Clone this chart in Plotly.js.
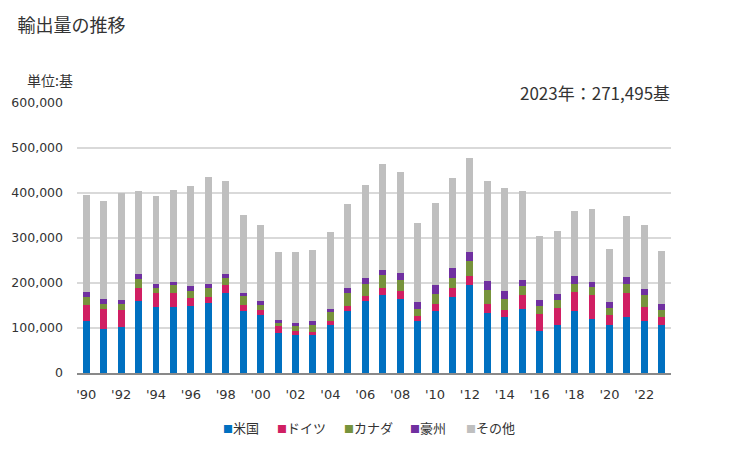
<!DOCTYPE html>
<html>
<head>
<meta charset="utf-8">
<script src="https://cdn.plot.ly/plotly-3.0.1.min.js"></script>
<style>html,body{margin:0;padding:0;background:#fff;}#chart{width:729px;height:450px;}</style>
</head>
<body>
<div id="chart"></div>
<script>
const years = [1990,1991,1992,1993,1994,1995,1996,1997,1998,1999,2000,2001,2002,2003,2004,2005,2006,2007,2008,2009,2010,2011,2012,2013,2014,2015,2016,2017,2018,2019,2020,2021,2022,2023];
const usa = [116000,98500,103000,161000,147000,147000,150000,156000,177000,137000,128000,89600,83700,83700,107000,138500,161000,172600,165000,116000,138500,168000,195000,134000,123700,143000,94000,106000,138500,120700,107000,125000,116000,106000];
const germany = [36000,44500,38000,29000,31500,31500,17000,14000,18000,15000,13000,15400,10300,8300,9000,11100,11000,17000,18000,11000,15500,21600,21000,20000,17300,31000,38000,39000,42200,53300,22600,53500,31000,19000];
const canada = [18000,11000,13000,20000,11500,17500,16000,20000,17000,20000,11000,7000,11000,15000,20000,28900,26500,28900,24000,16000,22000,22400,33600,31000,24000,20000,17600,18000,17800,18000,15400,20000,27000,15700];
const australia = [11000,11000,9000,9000,8500,7000,9600,8500,9000,6500,9000,6500,7000,9000,7000,11100,13500,11100,16000,15500,20000,22000,20000,20000,18000,13000,13400,13000,17500,11000,13500,15500,13000,13300];
const others = [215000,218000,238000,186000,195500,204000,223400,237500,206000,173500,169000,151500,158000,158000,171000,186400,206500,235400,224000,175500,182500,200000,208900,222000,229000,198000,142000,140000,144700,162000,117500,135600,142600,117495];
const seriesNames = ['米国','ドイツ','カナダ','豪州','その他'];
const seriesColors = ['#0070C0','#D01F63','#77933C','#7030A0','#BFBFBF'];
const tickYears = [1990,1992,1994,1996,1998,2000,2002,2004,2006,2008,2010,2012,2014,2016,2018,2020,2022];
const tickLabels = tickYears.map(y => "'" + String(y).slice(2));

const xcat = years.map(String);
const data = [usa, germany, canada, australia, others].map((vals, i) => ({
  type: 'bar',
  x: xcat,
  y: vals,
  name: seriesNames[i],
  marker: {color: seriesColors[i], line: {width: 0}},
  hoverinfo: 'x+y+name'
}));

// legend built as text (square glyph + name), positioned in paper coords
const plotLeft = 77, plotWidth = 594;
const legendPx = [221, 275, 342, 408, 464];
const legendAnnotations = seriesNames.map((n, i) => ({
  text: '<span style="color:' + seriesColors[i] + ';font-size:10px">■</span>' + n,
  xref: 'paper', yref: 'paper',
  x: (legendPx[i] - plotLeft) / plotWidth, xanchor: 'left',
  y: -0.201, yanchor: 'middle',
  showarrow: false,
  font: {family: 'Noto Sans CJK JP, sans-serif', size: 13, color: '#333'}
}));

const layout = {
  width: 729, height: 450,
  barmode: 'stack',
  bargap: 0.6,
  paper_bgcolor: '#fff', plot_bgcolor: '#fff',
  margin: {l: 77, r: 58, t: 103, b: 77},
  font: {family: 'DejaVu Sans, Noto Sans CJK JP, sans-serif', color: '#333', size: 13},
  title: {
    text: '輸出量の推移',
    font: {family: 'Noto Sans CJK JP, sans-serif', size: 18, color: '#333'},
    xref: 'container', yref: 'container',
    x: 0.024, xanchor: 'left', y: 0.944, yanchor: 'middle'
  },
  xaxis: {
    type: 'category',
    range: [-0.53, 33.53],
    tickmode: 'array',
    tickvals: tickYears.map(String),
    ticktext: tickLabels,
    showgrid: false,
    showline: true, linecolor: '#898989', linewidth: 1.5,
    ticks: '',
    ticklabelstandoff: 9,
    tickfont: {size: 13, color: '#333'},
    fixedrange: true
  },
  yaxis: {
    range: [0, 600000],
    tickmode: 'linear', tick0: 0, dtick: 100000,
    tickformat: ',d',
    showgrid: true, gridcolor: '#d9d9d9', gridwidth: 1.3,
    zeroline: false,
    showline: false,
    ticks: '',
    ticklabelstandoff: 13,
    tickfont: {size: 12.5, color: '#333'},
    fixedrange: true
  },
  showlegend: false,
  annotations: [
    {
      text: '単位:基', xref: 'paper', yref: 'paper',
      x: -0.088, xanchor: 'left', y: 1.084, yanchor: 'middle',
      showarrow: false,
      font: {family: 'Noto Sans CJK JP, sans-serif', size: 14, color: '#333'}
    },
    {
      text: '2023年：271,495基', xref: 'paper', yref: 'paper',
      x: 1.002, xanchor: 'right', y: 1.04, yanchor: 'middle',
      showarrow: false,
      font: {family: 'Noto Sans CJK JP, sans-serif', size: 17, color: '#333'}
    }
  ].concat(legendAnnotations)
};

Plotly.newPlot('chart', data, layout, {displayModeBar: false, staticPlot: true});
</script>
</body>
</html>
